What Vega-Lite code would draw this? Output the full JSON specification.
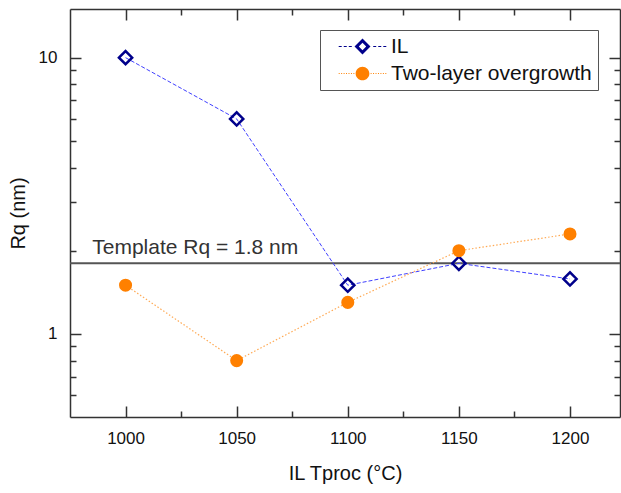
{
  "$schema": "https://vega.github.io/schema/vega-lite/v6.json",
  "width": 550,
  "height": 408,
  "autosize": "none",
  "padding": {"left": 70, "top": 9, "right": 1, "bottom": 76},
  "background": "white",
  "config": {
    "font": "Liberation Sans",
    "view": {"stroke": null},
    "axis": {
      "domainColor": "#333333",
      "domainWidth": 1.5,
      "tickColor": "#333333",
      "tickWidth": 1.5,
      "grid": false
    }
  },
  "datasets": {
    "points": [
      {"series": "IL", "T": 1000, "Rq": 10},
      {"series": "IL", "T": 1050, "Rq": 6.0},
      {"series": "IL", "T": 1100, "Rq": 1.5},
      {"series": "IL", "T": 1150, "Rq": 1.8},
      {"series": "IL", "T": 1200, "Rq": 1.58},
      {"series": "Two-layer overgrowth", "T": 1000, "Rq": 1.5},
      {"series": "Two-layer overgrowth", "T": 1050, "Rq": 0.8},
      {"series": "Two-layer overgrowth", "T": 1100, "Rq": 1.3},
      {"series": "Two-layer overgrowth", "T": 1150, "Rq": 2.0},
      {"series": "Two-layer overgrowth", "T": 1200, "Rq": 2.3}
    ],
    "template": [
      {"label": "Template Rq = 1.8 nm", "T": 985, "Rq": 1.8}
    ]
  },
  "data": {"name": "points"},
  "layer": [
    {
      "layer": [
        {
          "data": {"name": "template"},
          "mark": {"type": "rule", "color": "#555555", "strokeWidth": 2},
          "encoding": {"y": {"field": "Rq", "type": "quantitative"}}
        },
        {
          "data": {"name": "template"},
          "mark": {"type": "text", "align": "left", "baseline": "alphabetic", "dy": -9, "fontSize": 21, "fontWeight": "normal", "fill": "#333333", "font": "Liberation Sans"},
          "encoding": {
            "x": {"field": "T", "type": "quantitative"},
            "y": {"field": "Rq", "type": "quantitative"},
            "text": {"field": "label"}
          }
        },
        {
          "transform": [{"filter": "datum.series === 'IL'"}],
          "mark": {"type": "line", "stroke": "#4040ff", "strokeWidth": 1, "strokeDash": [4, 2]},
          "encoding": {
            "x": {"field": "T", "type": "quantitative"},
            "y": {"field": "Rq", "type": "quantitative"}
          }
        },
        {
          "transform": [{"filter": "datum.series !== 'IL'"}],
          "mark": {"type": "line", "stroke": "#ffaa55", "strokeWidth": 1.2, "strokeDash": [1.5, 2]},
          "encoding": {
            "x": {"field": "T", "type": "quantitative"},
            "y": {"field": "Rq", "type": "quantitative"}
          }
        },
        {
          "transform": [{"filter": "datum.series === 'IL'"}],
          "mark": {"type": "point", "shape": "diamond", "filled": false, "strokeWidth": 2.5, "size": 175, "opacity": 1},
          "encoding": {
            "x": {
              "field": "T", "type": "quantitative",
              "scale": {"domain": [975, 1222.5], "nice": false, "zero": false},
              "axis": {
                "orient": "bottom",
                "title": "IL Tproc (°C)",
                "titleFont": "Liberation Sans",
                "titleFontSize": 20,
                "titleFontWeight": "normal",
                "titleColor": "#111111",
                "titlePadding": 12,
                "labelFont": "Liberation Sans",
                "labelFontSize": 17,
                "labelColor": "#111111",
                "labelOverlap": false,
                "labelFlush": false,
                "format": "d",
                "values": [1000, 1025, 1050, 1075, 1100, 1125, 1150, 1175, 1200],
                "labelExpr": "datum.value % 50 === 0 ? datum.label : ''",
                "labelPadding": 24,
                "tickSize": {"condition": {"test": "datum.value % 50 === 0", "value": -11}, "value": -6}
              }
            },
            "y": {
              "field": "Rq", "type": "quantitative",
              "scale": {"type": "log", "domain": [0.5, 15], "nice": false, "zero": false},
              "axis": {
                "orient": "left",
                "title": "Rq (nm)",
                "titleFont": "Liberation Sans",
                "titleFontSize": 20,
                "titleFontWeight": "normal",
                "titleColor": "#111111",
                "titlePadding": 10,
                "labelFont": "Liberation Sans",
                "labelFontSize": 17,
                "labelColor": "#111111",
                "labelOverlap": false,
                "labelFlush": false,
                "format": "~g",
                "values": [0.6, 0.7, 0.8, 0.9, 1, 2, 3, 4, 5, 6, 7, 8, 9, 10],
                "labelExpr": "datum.value === 1 || datum.value === 10 ? datum.label : ''",
                "labelPadding": 24,
                "tickSize": {"condition": {"test": "datum.value === 1 || datum.value === 10", "value": -11}, "value": -6}
              }
            },
            "color": {
              "field": "series", "type": "nominal",
              "scale": {"domain": ["IL", "Two-layer overgrowth"], "range": ["#00008b", "#ff8000"]},
              "legend": {
                "title": null,
                "orient": "none",
                "legendX": 250,
                "legendY": 21,
                "padding": 6,
                "rowPadding": 5,
                "strokeColor": "#555555",
                "fillColor": "white",
                "labelFont": "Liberation Sans",
                "labelFontSize": 21,
                "labelColor": "#111111",
                "labelLimit": 400,
                "symbolSize": 196,
                "symbolOffset": 26,
                "labelOffset": 18,
                "encoding": {
                  "symbols": {
                    "shape": {"condition": {"test": "datum.value === 'IL'", "value": "M0,-1.14L1.14,0L0,1.14L-1.14,0ZM0,-0.53L-0.53,0L0,0.53L0.53,0ZM-3.4,-0.07H-2.97V0.07H-3.4ZM-2.68,-0.07H-2.25V0.07H-2.68ZM-1.96,-0.07H-1.53V0.07H-1.96ZM1.53,-0.07H1.96V0.07H1.53ZM2.25,-0.07H2.68V0.07H2.25ZM2.97,-0.07H3.4V0.07H2.97Z"}, "value": "M0.98,0A0.98,0.98,0,1,1,-0.98,0A0.98,0.98,0,1,1,0.98,0ZM-3.4,-0.07H-3.26V0.07H-3.4ZM-3.05,-0.07H-2.91V0.07H-3.05ZM-2.7,-0.07H-2.56V0.07H-2.7ZM-2.35,-0.07H-2.21V0.07H-2.35ZM-2.0,-0.07H-1.86V0.07H-2.0ZM-1.65,-0.07H-1.51V0.07H-1.65ZM-1.3,-0.07H-1.16V0.07H-1.3ZM1.16,-0.07H1.3V0.07H1.16ZM1.51,-0.07H1.65V0.07H1.51ZM1.86,-0.07H2.0V0.07H1.86ZM2.21,-0.07H2.35V0.07H2.21ZM2.56,-0.07H2.7V0.07H2.56ZM2.91,-0.07H3.05V0.07H2.91ZM3.26,-0.07H3.4V0.07H3.26Z"},
                    "fill": {"condition": {"test": "datum.value === 'IL'", "value": "#00008b"}, "value": "#ff8000"},
                    "stroke": {"value": "transparent"},
                    "strokeWidth": {"value": 0},
                    "opacity": {"value": 1},
                    "fillOpacity": {"value": 1}
                  }
                }
              }
            }
          }
        },
        {
          "transform": [{"filter": "datum.series !== 'IL'"}],
          "mark": {"type": "point", "shape": "circle", "filled": true, "size": 170, "opacity": 1},
          "encoding": {
            "x": {"field": "T", "type": "quantitative"},
            "y": {"field": "Rq", "type": "quantitative"},
            "color": {"field": "series", "type": "nominal"}
          }
        }
      ]
    },
    {
      "mark": {"type": "point", "opacity": 0},
      "encoding": {
        "x": {
          "field": "T", "type": "quantitative",
          "axis": {
            "orient": "top",
            "title": null,
            "labels": false,
            "values": [1000, 1025, 1050, 1075, 1100, 1125, 1150, 1175, 1200],
            "tickSize": {"condition": {"test": "datum.value % 50 === 0", "value": -11}, "value": -6}
          }
        },
        "y": {
          "field": "Rq", "type": "quantitative",
          "axis": {
            "orient": "right",
            "title": null,
            "labels": false,
            "values": [0.6, 0.7, 0.8, 0.9, 1, 2, 3, 4, 5, 6, 7, 8, 9, 10],
            "tickSize": {"condition": {"test": "datum.value === 1 || datum.value === 10", "value": -11}, "value": -6}
          }
        }
      }
    }
  ],
  "resolve": {"axis": {"x": "independent", "y": "independent"}}
}
